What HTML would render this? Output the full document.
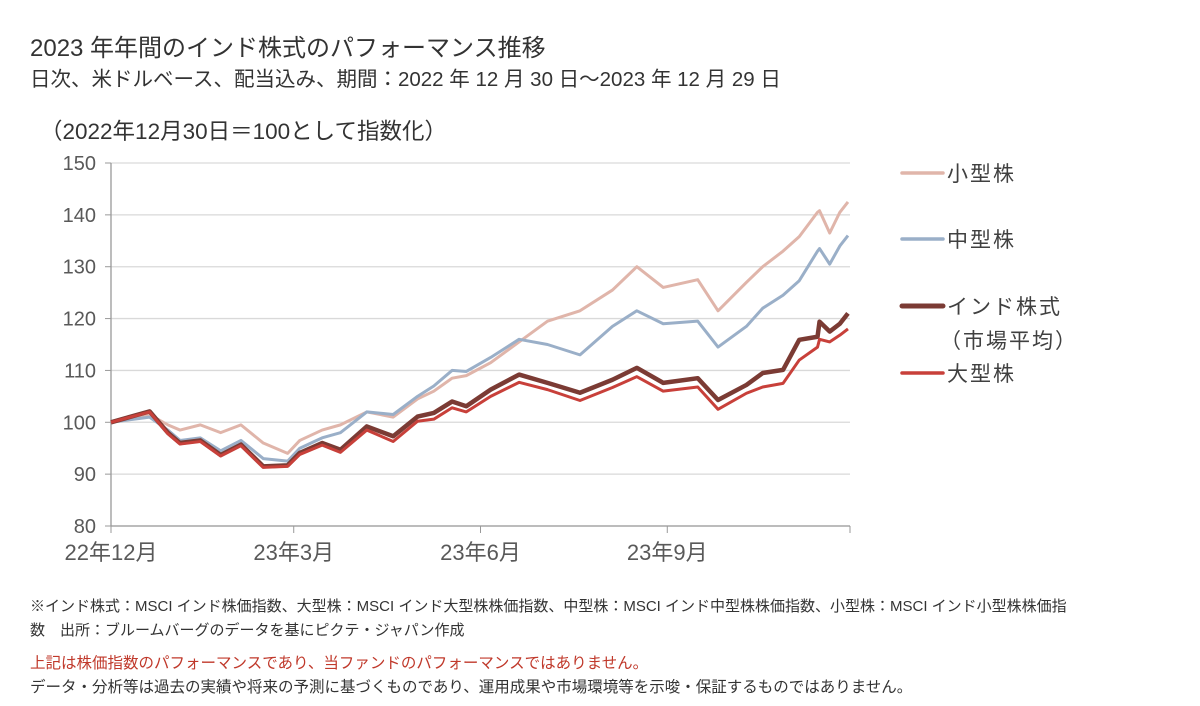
<!DOCTYPE html>
<html><head><meta charset="utf-8">
<style>
body{margin:0;background:#fff;width:1200px;height:706px;overflow:hidden;font-family:"Liberation Sans","Noto Sans CJK JP",sans-serif;color:#333}
svg{position:absolute;left:0;top:0}
</style></head>
<body>
<svg width="1200" height="706" id="chart">
<text x="30" y="56" font-size="24" fill="#333">2023 年年間のインド株式のパフォーマンス推移</text>
<text x="30" y="86" font-size="20.5" fill="#333">日次、米ドルベース、配当込み、期間：2022 年 12 月 30 日～2023 年 12 月 29 日</text>
<text x="40" y="139" font-size="22.5" fill="#333">（2022年12月30日＝100として指数化）</text>
<g id="grid"></g>
<g id="axes"></g>
<g id="series"></g>
<g id="legend"></g>
<text x="30" y="611" font-size="15" fill="#333">※インド株式：MSCI インド株価指数、大型株：MSCI インド大型株株価指数、中型株：MSCI インド中型株株価指数、小型株：MSCI インド小型株株価指</text>
<text x="30" y="635" font-size="15" fill="#333">数　出所：ブルームバーグのデータを基にピクテ・ジャパン作成</text>
<text x="30" y="668" font-size="15.5" fill="#c0392b">上記は株価指数のパフォーマンスであり、当ファンドのパフォーマンスではありません。</text>
<text x="30" y="692" font-size="15.5" fill="#333">データ・分析等は過去の実績や将来の予測に基づくものであり、運用成果や市場環境等を示唆・保証するものではありません。</text>
</svg>
<script>
const days=[0,19,28,34,44,54,64,75,87,93,104,113,126,139,151,159,168,175,187,201,215,231,247,259,272,289,299,313,321,331,339,348,349,354,359,363];
const india=[100,102.1,98,96,96.5,93.7,95.7,91.5,91.7,94.1,96,94.7,99.2,97.3,101.1,101.8,104,103.1,106.3,109.2,107.6,105.7,108.2,110.5,107.6,108.5,104.3,107.2,109.5,110.1,115.9,116.5,119.4,117.5,119,121];
const large=[100,102,97.8,95.8,96.3,93.5,95.5,91.3,91.5,93.8,95.6,94.2,98.5,96.3,100.2,100.6,102.8,102,105,107.7,106.3,104.2,106.7,108.8,106,106.8,102.5,105.6,106.8,107.5,112,114.5,116,115.5,116.8,118];
const mid=[100,101,98.5,96.5,97,94.5,96.5,93,92.5,95,97,98,102,101.5,105,107,110,109.8,112.5,116,115,113,118.5,121.5,119,119.5,114.5,118.5,122,124.5,127.3,133,133.5,130.5,134,136];
const small=[100,101.5,99.5,98.5,99.5,98,99.5,96,94,96.5,98.5,99.5,102,101,104.5,106,108.5,109,111.5,115.5,119.5,121.5,125.5,130,126,127.5,121.5,127,130,133,135.8,140.5,140.8,136.5,140.5,142.5];
const yTicks=[80,90,100,110,120,130,140,150];
const xTickLabels=["22年12月","23年3月","23年6月","23年9月"];
const xTickDays=[0,90,182,274,364];

const NS="http://www.w3.org/2000/svg";
const X0=111,X1=850,Y0=526,Y1=163;
const xs=d=>X0+d/364*(X1-X0);
const ys=v=>Y0-(v-80)/70*(Y0-Y1);
function mk(tag,attrs,parent){const e=document.createElementNS(NS,tag);for(const k in attrs)e.setAttribute(k,attrs[k]);parent.appendChild(e);return e;}
const grid=document.getElementById('grid'),axes=document.getElementById('axes'),ser=document.getElementById('series'),leg=document.getElementById('legend');
yTicks.forEach(v=>{
  const l=mk('line',{x1:X0,x2:X1,y1:ys(v),y2:ys(v),stroke:'#d9d9d9','stroke-width':1.3},grid);
  
  
  mk('line',{x1:X0-6,x2:X0,y1:ys(v),y2:ys(v),stroke:'#999'},axes);
  const t=mk('text',{x:X0-15,y:ys(v)+7,'font-size':20,fill:'#595959','text-anchor':'end'},axes);
  t.textContent=v;
  
  
});
const ya=mk('line',{x1:X0,x2:X0,y1:Y1,y2:Y0,stroke:'#999','stroke-width':1.3},axes);


const xa=mk('line',{x1:X0,x2:X1,y1:Y0,y2:Y0,stroke:'#999','stroke-width':1.3},axes);


xTickDays.forEach(d=>mk('line',{x1:xs(d),x2:xs(d),y1:Y0,y2:Y0+7,stroke:'#999'},axes));
xTickLabels.forEach((s,i)=>{
  const t=mk('text',{x:xs(xTickDays[i]),y:Y0+34,'font-size':22,fill:'#595959','text-anchor':'middle'},axes);
  t.textContent=s;
  
  
});
function line(vals,color,w,name){
  const p=mk('polyline',{points:vals.map((v,i)=>xs(days[i])+','+ys(v)).join(' '),fill:'none',stroke:color,'stroke-width':w,'stroke-linejoin':'round'},ser);
  
  
}
line(small,'#e0b5aa',3,'line-small-cap');
line(mid,'#9aafc8',3,'line-mid-cap');
line(india,'#7b3b34',4.5,'line-india-market');
line(large,'#c8403a',3,'line-large-cap');
const L=[["小型株",'#e0b5aa',173,null],["中型株",'#9aafc8',239,null],["インド株式",'#7b3b34',306,"（市場平均）"],["大型株",'#c8403a',373,null]];
L.forEach((e,i)=>{
  const g=mk('g',{},leg);
  
  
  mk('line',{x1:902,x2:943,y1:e[2],y2:e[2],stroke:e[1],'stroke-width':i==2?5:3.5,'stroke-linecap':'round'},g);
  const t=mk('text',{x:947,y:e[2]+8,'font-size':21,fill:'#404040','letter-spacing':2},g);
  t.textContent=e[0];
  if(e[3]){const t2=mk('text',{x:940,y:e[2]+42,'font-size':21,fill:'#404040','letter-spacing':2},g);t2.textContent=e[3];}
});
</script>
</body></html>
